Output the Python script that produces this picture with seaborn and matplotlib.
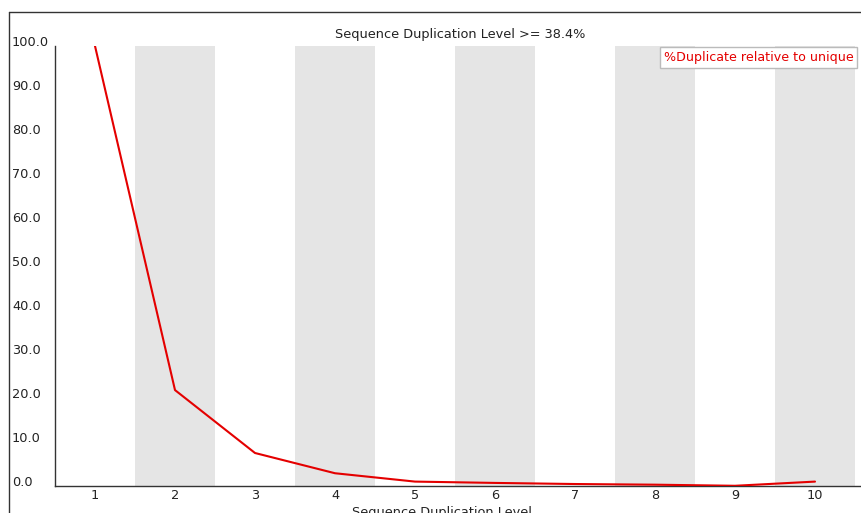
import matplotlib
matplotlib.use("Agg")
import matplotlib.pyplot as plt
import seaborn as sns
import pandas as pd
from matplotlib.lines import Line2D

levels = [1, 2, 3, 4, 5, 6, 7, 8, 9, 10]
dup_pct = [100.0, 21.8, 7.5, 2.9, 1.0, 0.7, 0.45, 0.3, 0.05, 1.0]
tick_labels = ["1", "2", "3", "4", "5", "6", "7", "8", "9", "10"]
y_ticks = [0, 10, 20, 30, 40, 50, 60, 70, 80, 90, 100]
title = "Sequence Duplication Level >= 38.4%"
series_name = "%Duplicate relative to unique"
xlabel = "Sequence Duplication Level"

sns.set_style("white")
plt.rcParams['font.family'] = ['DejaVu Sans']

W, H = 861, 513
fig = plt.figure(figsize=(W / 100, H / 100), dpi=100)
left, right, top, bottom = 55, 861, 46, 486
ax = fig.add_axes([left / W, (H - bottom) / H, (right - left) / W, (bottom - top) / H])

df = pd.DataFrame({"level": levels, "pct": dup_pct})

# alternating bands
for i, lv in enumerate(levels):
    if i % 2 == 1:
        ax.axvspan(lv - 0.5, lv + 0.5, color="#e5e5e5", lw=0, zorder=0)

sns.lineplot(data=df, x="level", y="pct", ax=ax, color="#e40000", lw=1.5,
             label=series_name, zorder=3)

ax.set_xlim(0.5, 10.5 + 6 / 80)
ax.set_ylim(0, 100)
ax.set_xticks(levels)
ax.set_xticklabels(tick_labels, fontsize=9.3, color="#222222")
ax.set_yticks(y_ticks)
ax.set_yticklabels([f"{v:.1f}" for v in y_ticks], fontsize=9.3, color="#222222")
ax.tick_params(axis="y", length=0, pad=31)
ax.tick_params(axis="x", length=0, pad=2)
for lab in ax.get_yticklabels():
    lab.set_ha("left")
    lab.set_va("baseline")

ax.set_xlabel(xlabel, fontsize=9.3, color="#222222")
ax.xaxis.set_label_coords((442 - left) / (right - left), -0.046, transform=ax.transAxes)
ax.xaxis.label.set_va("top")
ax.set_ylabel("")
ax.set_title(title, fontsize=9.3, color="#222222", pad=6, x=(460 - left) / (right - left))

for s in ["top", "right"]:
    ax.spines[s].set_visible(False)
for s in ["left", "bottom"]:
    ax.spines[s].set_color("#333333")
    ax.spines[s].set_linewidth(1.0)

leg = ax.legend(loc="upper left", bbox_to_anchor=(660 / W, 1 - 47 / H),
                bbox_transform=fig.transFigure, handlelength=0, handletextpad=0,
                borderpad=0.3, borderaxespad=0, frameon=True, fancybox=False,
                fontsize=9.1, labelcolor="#e40000")
for h in leg.legend_handles:
    h.set_visible(False)
leg.get_frame().set_edgecolor("#bbbbbb")
leg.get_frame().set_linewidth(1.0)
leg.get_frame().set_alpha(1.0)

# outer frame lines
fig.add_artist(Line2D([9 / W, 9 / W], [0, 1 - 12 / H], transform=fig.transFigure,
                      color="#333333", lw=1.0))
fig.add_artist(Line2D([9 / W, 1], [1 - 12 / H, 1 - 12 / H], transform=fig.transFigure,
                      color="#333333", lw=1.0))

fig.savefig("out.png", dpi=100)
